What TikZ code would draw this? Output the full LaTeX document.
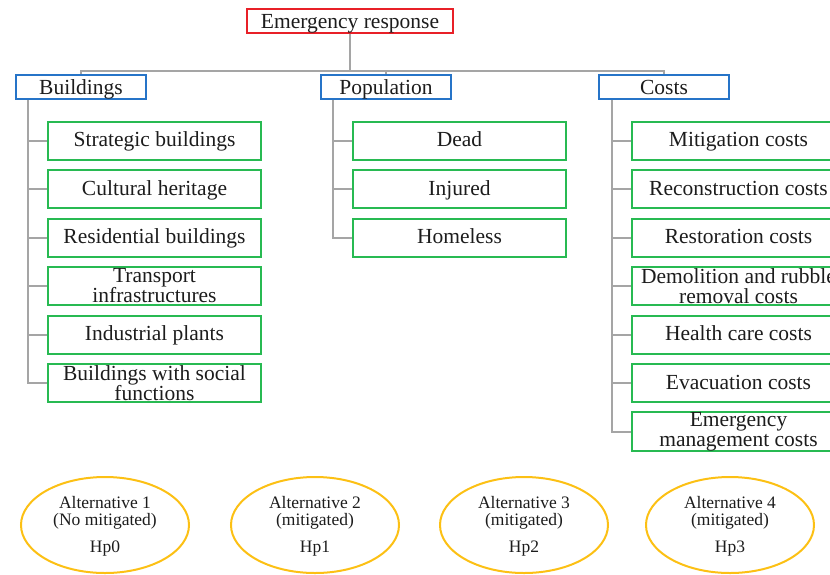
\documentclass[tikz,border=0pt]{standalone}
\usepackage{fontspec}
\setmainfont{Liberation Serif}
\usetikzlibrary{shapes.geometric}

\definecolor{rootred}{RGB}{232,32,40}
\definecolor{groupblue}{RGB}{38,116,200}
\definecolor{leafgreen}{RGB}{40,186,82}
\definecolor{altyellow}{RGB}{252,192,20}
\definecolor{linkgray}{RGB}{165,165,165}
\definecolor{inkdark}{RGB}{28,28,28}

\begin{document}

\begin{tikzpicture}[x=1pt, y=-1pt,
    every node/.style={text=inkdark, align=center, inner sep=0pt},
    rootbox/.style={draw=rootred, line width=2pt, minimum width=206pt, minimum height=24pt,
      text height=17pt, text depth=3pt, font=\fontsize{21.5}{20}\selectfont},
    groupbox/.style={draw=groupblue, line width=2pt, minimum width=130pt, minimum height=24pt,
      text height=17pt, text depth=3pt, font=\fontsize{21.5}{20}\selectfont},
    leafbox/.style={draw=leafgreen, line width=2pt, minimum width=213pt, minimum height=38pt,
      font=\fontsize{21.5}{20}\selectfont},
    oneline/.style={text height=15pt, text depth=3pt},
    altoval/.style={ellipse, draw=altyellow, line width=2pt, minimum width=168pt, minimum height=96pt,
      text height=58pt, text depth=4pt, font=\fontsize{17.5}{17}\selectfont},
    link/.style={draw=linkgray, line width=2pt}]

    \clip (0,0) rectangle (830,574);



    \node[rootbox] (root) at (350,21) {Emergency response};

    \node[groupbox] (bld) at (81,87) {Buildings};

    \node[groupbox] (pop) at (386,87) {Population};

    \node[groupbox] (cst) at (664,87) {Costs};



    \coordinate (hub) at (350,71);

    \draw[link] (root.south) -- (hub);

    \draw[link] (bld.north) |- (hub) -| (cst.north);

    \draw[link] (hub) -| (pop.north);



    \node[leafbox, oneline] (bld1) at (154.5,140.5) {Strategic buildings};

    \node[leafbox, oneline] (bld2) at (154.5,189) {Cultural heritage};

    \node[leafbox, oneline] (bld3) at (154.5,237.5) {Residential buildings};

    \node[leafbox] (bld4) at (154.5,286) {Transport\\infrastructures};

    \node[leafbox, oneline] (bld5) at (154.5,334.5) {Industrial plants};

    \node[leafbox] (bld6) at (154.5,383) {Buildings with social\\functions};



    \node[leafbox, oneline] (pop1) at (459.5,140.5) {Dead};

    \node[leafbox, oneline] (pop2) at (459.5,189) {Injured};

    \node[leafbox, oneline] (pop3) at (459.5,237.5) {Homeless};



    \node[leafbox, oneline] (cst1) at (738.5,140.5) {Mitigation costs};

    \node[leafbox, oneline] (cst2) at (738.5,189) {Reconstruction costs};

    \node[leafbox, oneline] (cst3) at (738.5,237.5) {Restoration costs};

    \node[leafbox] (cst4) at (738.5,286) {Demolition and rubble\\removal costs};

    \node[leafbox, oneline] (cst5) at (738.5,334.5) {Health care costs};

    \node[leafbox, oneline] (cst6) at (738.5,383) {Evacuation costs};

    \node[leafbox] (cst7) at (738.5,431.5) {Emergency\\management costs};



    \draw[link] ([xshift=13pt]bld.south west) |- (bld1.west);

    \draw[link] ([xshift=13pt]bld.south west) |- (bld2.west);

    \draw[link] ([xshift=13pt]bld.south west) |- (bld3.west);

    \draw[link] ([xshift=13pt]bld.south west) |- (bld4.west);

    \draw[link] ([xshift=13pt]bld.south west) |- (bld5.west);

    \draw[link] ([xshift=13pt]bld.south west) |- (bld6.west);



    \draw[link] ([xshift=13pt]pop.south west) |- (pop1.west);

    \draw[link] ([xshift=13pt]pop.south west) |- (pop2.west);

    \draw[link] ([xshift=13pt]pop.south west) |- (pop3.west);



    \draw[link] ([xshift=14pt]cst.south west) |- (cst1.west);

    \draw[link] ([xshift=14pt]cst.south west) |- (cst2.west);

    \draw[link] ([xshift=14pt]cst.south west) |- (cst3.west);

    \draw[link] ([xshift=14pt]cst.south west) |- (cst4.west);

    \draw[link] ([xshift=14pt]cst.south west) |- (cst5.west);

    \draw[link] ([xshift=14pt]cst.south west) |- (cst6.west);

    \draw[link] ([xshift=14pt]cst.south west) |- (cst7.west);



    \node[altoval] (alt1) at (105,525) {Alternative 1\\(No mitigated)\\[10pt]Hp0};

    \node[altoval] (alt2) at (315,525) {Alternative 2\\(mitigated)\\[10pt]Hp1};

    \node[altoval] (alt3) at (524,525) {Alternative 3\\(mitigated)\\[10pt]Hp2};

    \node[altoval] (alt4) at (730,525) {Alternative 4\\(mitigated)\\[10pt]Hp3};

  \end{tikzpicture}

\end{document}
